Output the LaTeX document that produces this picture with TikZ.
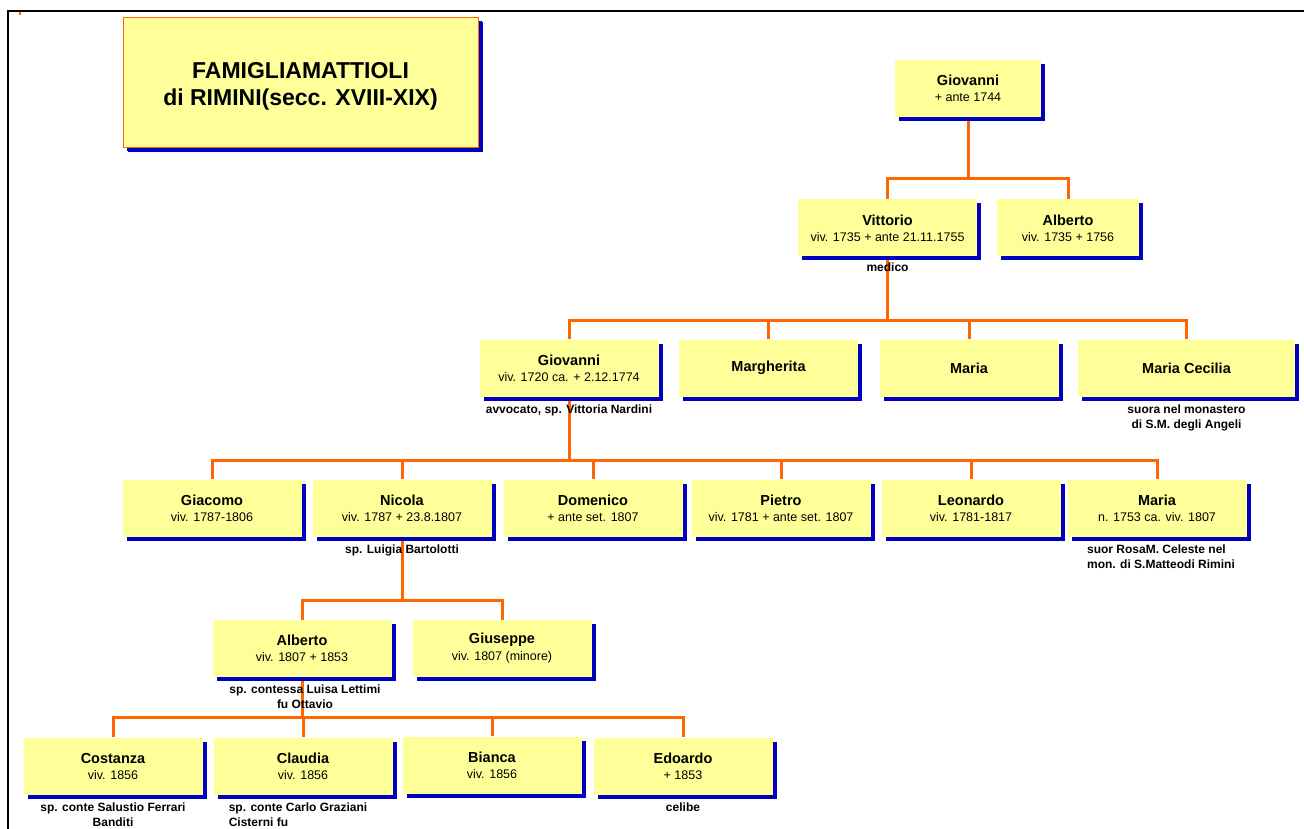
\documentclass[tikz,border=0pt]{standalone}
\usepackage{fontspec}
\setmainfont{Liberation Sans}
\usetikzlibrary{positioning,shadows,backgrounds}
\definecolor{boxfill}{RGB}{255,255,153}
\definecolor{shadowblue}{RGB}{0,0,192}
\definecolor{kinline}{RGB}{255,102,0}
\newcommand{\NameFont}{\fontsize{14.5}{17}\selectfont\bfseries}
\newcommand{\DateFont}{\fontsize{12.5}{14}\selectfont}
\newcommand{\NoteFont}{\fontsize{12}{15}\selectfont\bfseries}
\newcommand{\pers}[2]{{\NameFont #1}\\[4pt]{\DateFont #2}}
\tikzset{
  person/.style={rectangle, fill=boxfill, minimum width=179pt, minimum height=57pt, inner sep=0pt, align=center, text=black,
    drop shadow={shadow xshift=4pt, shadow yshift=-4pt, fill=shadowblue, opacity=1}},
  titlecard/.style={person, draw=kinline, line width=0.8pt, minimum width=355pt, minimum height=130pt,
    drop shadow={shadow xshift=5pt, shadow yshift=-5pt, fill=shadowblue, opacity=1}, font=\fontsize{23}{27}\selectfont\bfseries},
  note/.style={inner sep=0pt, align=center, font=\NoteFont},
  kin/.style={draw=kinline, line width=3pt}
}
\begin{document}
\begin{tikzpicture}[x=1pt, y=-1pt]
  \useasboundingbox (0,0) rectangle (1304,829);
  \draw[line width=2pt] (8,829) -- (8,11) -- (1304,11);
  \fill[kinline] (19,12) rectangle (21,15);
  \node[titlecard, text depth=0pt] (title) at (300.5,82) {};
  \node[inner sep=0pt, align=center, font=\fontsize{23}{27}\selectfont\bfseries] (titletext) at (300.5,86) {FAMIGLIAMATTIOLI\\di RIMINI(secc. XVIII-XIX)};
  % generazione 1-2
  \node[person, minimum width=146pt] (gio0) at (968,88.5) {\pers{Giovanni}{+ ante 1744}};
  \node[person] (vit) at (887.5,228) {\pers{Vittorio}{viv. 1735 + ante 21.11.1755}};
  \node[person, minimum width=142pt] (alb0) at (1068,228) {\pers{Alberto}{viv. 1735 + 1756}};
  \node[note, below=6pt of vit] (vitn) {medico};
  % generazione 3
  \node[person] (gio1) at (569,368) {\pers{Giovanni}{viv. 1720 ca. + 2.12.1774}};
  \node[person] (mrg) at (768.5,368) {{\NameFont Margherita}};
  \node[person] (mra1) at (969,368) {{\NameFont Maria}};
  \node[person, minimum width=217pt] (mcec) at (1186.5,368) {{\NameFont Maria Cecilia}};
  \node[note, below=8pt of gio1] (gio1n) {avvocato, sp. Vittoria Nardini};
  \node[note, below=8pt of mcec] (mcecn) {suora nel monastero\\di S.M. degli Angeli};
  % generazione 4
  \node[person] (gia) at (212,508) {\pers{Giacomo}{viv. 1787-1806}};
  \node[person] (nic) at (402,508) {\pers{Nicola}{viv. 1787 + 23.8.1807}};
  \node[person] (dom) at (593,508) {\pers{Domenico}{+ ante set. 1807}};
  \node[person] (pie) at (781,508) {\pers{Pietro}{viv. 1781 + ante set. 1807}};
  \node[person] (leo) at (971,508) {\pers{Leonardo}{viv. 1781-1817}};
  \node[person] (mra2) at (1157,508) {\pers{Maria}{n. 1753 ca. viv. 1807}};
  \node[note, below=8pt of nic] (nicn) {sp. Luigia Bartolotti};
  \node[note, align=left, below=8pt of mra2, xshift=4pt] (mra2n) {suor RosaM. Celeste nel\\mon. di S.Matteodi Rimini};
  % generazione 5
  \node[person] (alb1) at (302,648.5) {\pers{Alberto}{viv. 1807 + 1853}};
  \node[person] (giu) at (502,648.5) {\pers{Giuseppe}{viv. 1807 (minore)}};
  \node[note, below=7pt of alb1, xshift=3pt] (alb1n) {sp. contessa Luisa Lettimi\\fu Ottavio};
  % generazione 6
  \node[person] (cos) at (113,766) {\pers{Costanza}{viv. 1856}};
  \node[person] (cla) at (303,766) {\pers{Claudia}{viv. 1856}};
  \node[person] (bia) at (492,765) {\pers{Bianca}{viv. 1856}};
  \node[person] (edo) at (683,766) {\pers{Edoardo}{+ 1853}};
  \node[note, below=8pt of cos] (cosn) {sp. conte Salustio Ferrari\\Banditi};
  \node[note, align=left, below=8pt of cla, xshift=-5pt] (clan) {sp. conte Carlo Graziani\\Cisterni fu};
  \node[note, below=8pt of edo] (edon) {celibe};
  % linee di parentela
  \begin{scope}[on background layer]
    \draw[kin] (gio0.south) -- ++(0,61) coordinate (bus1);
    \foreach \c in {vit,alb0} \draw[kin] (\c.north) |- (bus1);
    \draw[kin] (vit.south) -- ++(0,64) coordinate (bus2);
    \foreach \c in {gio1,mrg,mra1,mcec} \draw[kin] (\c.north) |- (bus2);
    \draw[kin] (gio1.south) -- ++(0,64) coordinate (bus3);
    \foreach \c in {gia,nic,dom,pie,leo,mra2} \draw[kin] (\c.north) |- (bus3);
    \draw[kin] (nic.south) -- ++(0,64) coordinate (bus4);
    \foreach \c in {alb1,giu} \draw[kin] (\c.north) |- (bus4);
    \draw[kin] (alb1.south) -- ++(0,40) coordinate (bus5);
    \foreach \c in {cos,cla,bia,edo} \draw[kin] (\c.north) |- (bus5);
  \end{scope}
\end{tikzpicture}
\end{document}
